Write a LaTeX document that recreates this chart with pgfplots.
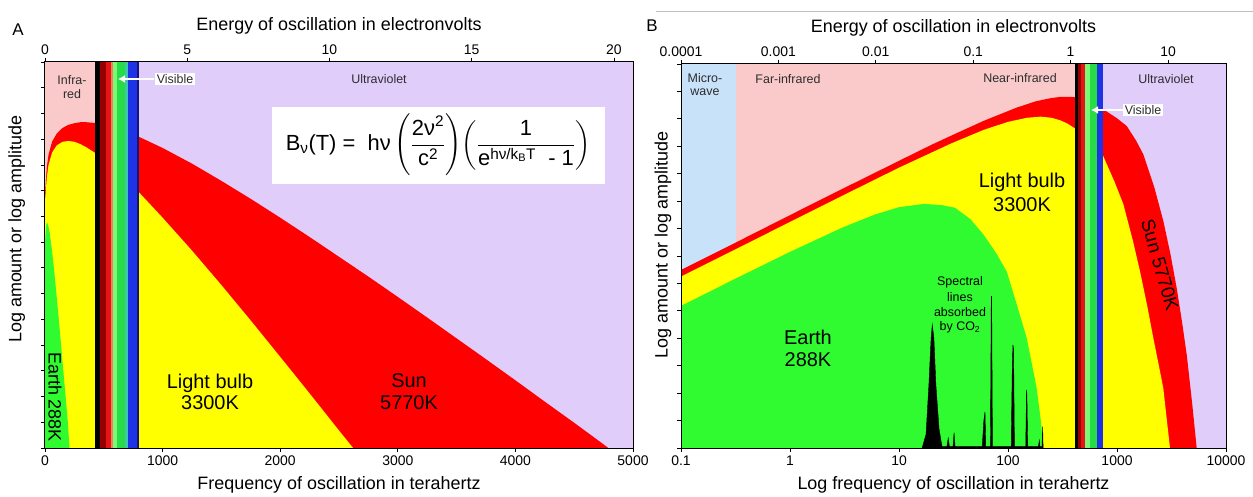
\RequirePackage{fix-cm}
\documentclass[border=0pt]{standalone}
\usepackage{fontspec}
\setmainfont{Liberation Sans}
\usepackage{amsmath}
\usepackage{pgfplots}
\pgfplotsset{compat=1.18}
\usetikzlibrary{arrows.meta}

\definecolor{irpink}{RGB}{250,201,201}
\definecolor{uvlav}{RGB}{225,205,250}
\definecolor{mwblue}{RGB}{200,226,250}
\definecolor{sunred}{RGB}{255,0,0}
\definecolor{bulbyel}{RGB}{255,255,0}
\definecolor{earthgrn}{RGB}{48,250,48}
\definecolor{vdred}{RGB}{150,0,0}
\definecolor{vred}{RGB}{230,20,20}
\definecolor{vorange}{RGB}{240,130,90}
\definecolor{vlgreen}{RGB}{120,250,120}
\definecolor{vgreen}{RGB}{40,220,70}
\definecolor{vteal}{RGB}{60,200,170}
\definecolor{vblue}{RGB}{30,50,230}
\definecolor{vnavy}{RGB}{20,20,120}
\definecolor{labgray}{RGB}{45,45,45}

\newcommand{\fs}[1]{\fontsize{#1}{#1}\selectfont}

\pgfplotsset{
  panel/.style={
    scale only axis, axis on top, anchor=south west,
    ymin=0, tick align=outside, xtick pos=bottom, ytick pos=left,
    yticklabels={},
    major tick length=4bp,
    every tick/.style={black, line width=0.8bp},
    axis line style={black, line width=1bp},
    tick label style={font=\fs{14}},
    label style={font=\fs{18}},
    xlabel style={yshift=-4bp},
    xminorticks=false, yminorticks=false,
  },
  toppanel/.style={
    scale only axis, anchor=south west, ymin=0, ymax=1,
    axis x line*=top, axis y line=none,
    tick align=outside, major tick length=4bp,
    every tick/.style={black, line width=0.8bp},
    axis line style={black, line width=1bp},
    tick label style={font=\fs{14}},
    label style={font=\fs{18}},
    xlabel style={yshift=4bp},
    xminorticks=false,
  },
}

\begin{document}
\begin{tikzpicture}
\path[use as bounding box] (0bp,0bp) rectangle (1253bp,497bp);

% ================= Panel A =================
\begin{axis}[panel, at={(45bp,49bp)}, width=588bp, height=386bp,
  xmin=0, xmax=5000, ymax=15, ytick={0,...,15},
  xtick={0,1000,2000,3000,4000,5000},
  xticklabels={0,1000,2000,3000,4000,5000},
  xlabel={Frequency of oscillation in terahertz},
  ylabel={Log amount or log amplitude},
  ylabel style={at={(axis description cs:-0.048,0.567)}, anchor=center},
]
% spectral regions
\addplot[fill=irpink, draw=none] coordinates {(0,15) (425,15)} \closedcycle;
\addplot[fill=uvlav, draw=none] coordinates {(797,15) (5000,15)} \closedcycle;
% Sun 5770 K
\addplot[fill=sunred, draw=none] coordinates {
(0,9.9) (5,10.2) (15,10.9) (30,11.4) (60,11.9) (100,12.22) (150,12.44) (200,12.56)
(250,12.62) (300,12.66) (350,12.66) (425,12.63) (500,12.57) (600,12.44) (800,12.09)
(1000,11.66) (1250,11.05) (1500,10.38) (1750,9.68) (2000,8.95) (2250,8.20) (2500,7.43)
(2750,6.66) (3000,5.87) (3250,5.07) (3500,4.26) (3750,3.45) (4000,2.63) (4250,1.80)
(4500,0.98) (4750,0.14) (4790,0)} \closedcycle;
% Light bulb 3300 K
\addplot[fill=bulbyel, draw=none] coordinates {
(0,9.6) (5,9.9) (15,10.5) (30,11.0) (60,11.48) (100,11.76) (150,11.90) (200,11.93)
(250,11.90) (300,11.81) (350,11.69) (425,11.47) (500,11.21) (600,10.81) (800,9.93)
(1000,8.95) (1250,7.67) (1500,6.33) (1750,4.95) (2000,3.54) (2250,2.12) (2500,0.68)
(2620,0)} \closedcycle;
% Earth 288 K
\addplot[fill=earthgrn, draw=none] coordinates {
(0,7.6) (2,8.1) (5,8.35) (10,8.64) (17,8.76) (25,8.7) (40,8.35) (60,7.65) (80,6.8)
(100,5.85) (125,4.6) (150,3.3) (175,2.0) (195,0.95) (208,0)} \closedcycle;
% visible band
\addplot[fill=black, draw=none] coordinates {(425,15) (468,15)} \closedcycle;
\addplot[fill=vdred, draw=none] coordinates {(468,15) (515,15)} \closedcycle;
\addplot[fill=vred, draw=none] coordinates {(515,15) (561,15)} \closedcycle;
\addplot[fill=vorange, draw=none] coordinates {(561,15) (576,15)} \closedcycle;
\addplot[fill=vlgreen, draw=none] coordinates {(576,15) (615,15)} \closedcycle;
\addplot[fill=vgreen, draw=none] coordinates {(615,15) (680,15)} \closedcycle;
\addplot[fill=vteal, draw=none] coordinates {(680,15) (709,15)} \closedcycle;
\addplot[fill=vblue, draw=none] coordinates {(709,15) (780,15)} \closedcycle;
\addplot[fill=vnavy, draw=none] coordinates {(780,15) (797,15)} \closedcycle;
\end{axis}

\begin{axis}[toppanel, at={(45bp,49bp)}, width=588bp, height=386bp,
  xmin=0, xmax=20.67, xtick={0,5,10,15,20}, xticklabels={0,5,10,15,20},
  xlabel={Energy of oscillation in electronvolts}]
\end{axis}

% ================= Panel B =================
\begin{axis}[panel, at={(681bp,49bp)}, width=545bp, height=384bp,
  xmode=log, xmin=0.1, xmax=10000, ymax=14, ytick={0,...,14},
  xtick={0.1,1,10,100,1000,10000},
  xticklabels={0.1,1,10,100,1000,10000},
  xlabel={Log frequency of oscillation in terahertz},
  ylabel={Log amount or log amplitude},
  ylabel style={at={(axis description cs:-0.033,0.529)}, anchor=center},
]
\addplot[fill=mwblue, draw=none] coordinates {(0.1,14) (0.32,14)} \closedcycle;
\addplot[fill=irpink, draw=none] coordinates {(0.32,14) (412,14)} \closedcycle;
\addplot[fill=uvlav, draw=none] coordinates {(749,14) (10000,14)} \closedcycle;
% Sun 5770 K
\addplot[fill=sunred, draw=none] coordinates {
(0.1,6.49) (0.3,7.44) (1,8.49) (3,9.44) (10,10.47) (20,11.06) (32.6,11.45) (60,11.93)
(120,12.41) (180,12.64) (243,12.75) (300,12.80) (370,12.80) (412,12.79) (550,12.65)
(748,12.35) (1000,12.02) (1227,11.74) (1500,11.2) (1742,10.71) (2200,9.5) (2660,8.28)
(3100,7.05) (3530,5.83) (3950,4.6) (4363,3.40) (4900,1.6) (5383,0)} \closedcycle;
% Light bulb 3300 K
\addplot[fill=bulbyel, draw=none] coordinates {
(0.1,6.25) (0.3,7.20) (1,8.24) (3,9.19) (10,10.22) (30,11.10) (60,11.60) (100,11.89)
(150,12.04) (200,12.08) (250,12.04) (300,11.95) (350,11.83) (412,11.65) (550,11.2)
(748,10.64) (950,9.7) (1143,8.89) (1400,7.55) (1626,6.44) (1900,5.15) (2153,4.01)
(2400,3.08) (2660,2.18) (2870,1.0) (3062,0)} \closedcycle;
% Earth 288 K
\addplot[fill=earthgrn, draw=none] coordinates {
(0.1,5.18) (0.3,6.13) (1,7.15) (3,8.03) (6,8.51) (10,8.78) (17,8.90) (25,8.85)
(32.6,8.76) (45,8.35) (59.3,7.79) (78,7.1) (97.2,6.44) (120,5.25) (148.4,4.01)
(165,3.1) (183.2,2.18) (200,1.0) (211,0)} \closedcycle;
% CO2 absorption lines
\addplot[fill=black, draw=black, line width=0.4bp] coordinates {
(16.3,0) (17.7,0.5) (18.8,2.3) (19.7,4.0) (20.2,4.5) (20.9,4.0) (21.8,2.3) (23.3,0.7)
(24.8,0.05) (27.5,0.05) (28.3,0.36) (29,0.05) (31.3,0.05) (32,0.56) (32.7,0.05)
(58,0.05) (60,1.0) (61.5,1.32) (62.5,0.05) (69,0.05) (70.2,5.53) (70.8,5.53) (72,0.05)
(107,0.05) (109.5,3.0) (111,3.76) (112.5,3.6) (114.5,0.05) (145.5,0.05) (147.8,2.12)
(149,2.0) (151.5,0.05) (190,0.05) (193.8,0.28) (196,0.05) (205,0.05) (208,0.78)
(210,0)} \closedcycle;
% visible band
\addplot[fill=black, draw=none] coordinates {(412,14) (442,14)} \closedcycle;
\addplot[fill=vdred, draw=none] coordinates {(442,14) (470,14)} \closedcycle;
\addplot[fill=vred, draw=none] coordinates {(470,14) (508,14)} \closedcycle;
\addplot[fill=vlgreen, draw=none] coordinates {(508,14) (560,14)} \closedcycle;
\addplot[fill=vgreen, draw=none] coordinates {(560,14) (651,14)} \closedcycle;
\addplot[fill=vblue, draw=none] coordinates {(651,14) (749,14)} \closedcycle;
\end{axis}

\begin{axis}[toppanel, at={(681bp,49bp)}, width=545bp, height=384bp,
  xmode=log, xmin=1e-4, xmax=39.4,
  xtick={0.0001,0.001,0.01,0.1,1,10},
  xticklabels={0.0001,0.001,0.01,0.1,1,10},
  xlabel={Energy of oscillation in electronvolts}]
\end{axis}

% ================= annotations =================
\node[font=\fs{17}] at (18bp,467bp) {A};
\node[font=\fs{17}] at (652bp,471bp) {B};
\draw[black!25, line width=1bp] (656bp,485bp) -- (1253bp,485bp);

% Panel A labels
\node[font=\fs{12.5}, text=labgray] at (72bp,417bp) {Infra-};
\node[font=\fs{12.5}, text=labgray] at (72bp,403bp) {red};
\draw[white, line width=2.2bp, -{Latex[length=7bp,width=8bp]}] (154bp,418bp) -- (118bp,418bp);
\node[fill=white, inner sep=1.5bp, font=\fs{12.5}, text=labgray] at (175bp,418bp) {Visible};
\node[font=\fs{12.5}, text=labgray] at (379bp,418bp) {Ultraviolet};
\fill[white] (272bp,390bp) rectangle (605bp,313bp);
\node[font=\fs{22}] at (438bp,352bp)
  {$\text{B}_{\text{ν}}\text{(T) = \ hν}\left(\dfrac{\text{2ν}^{\text{2}}}{\text{c}^{\text{2}}}\right)\!\left(\dfrac{\text{1}}{\text{e}^{\text{hν/k}_{\text{B}}\text{T}}\text{ \ - 1}}\right)$};
\node[font=\fs{18}, rotate=-90] at (55bp,100bp) {Earth 288K};
\node[font=\fs{20}] at (210bp,114bp) {Light bulb};
\node[font=\fs{20}] at (210bp,94bp) {3300K};
\node[font=\fs{20}] at (409bp,116bp) {Sun};
\node[font=\fs{20}] at (409bp,94bp) {5770K};

% Panel B labels
\node[font=\fs{12.5}, text=labgray] at (705bp,419bp) {Micro-};
\node[font=\fs{12.5}, text=labgray] at (705bp,405bp) {wave};
\node[font=\fs{12.5}, text=labgray] at (788bp,418bp) {Far-infrared};
\node[font=\fs{12.5}, text=labgray] at (1020bp,419bp) {Near-infrared};
\node[font=\fs{12.5}, text=labgray] at (1166bp,418bp) {Ultraviolet};
\draw[white, line width=2.2bp, -{Latex[length=7bp,width=8bp]}] (1124bp,387bp) -- (1091bp,387bp);
\node[fill=white, inner sep=1.5bp, font=\fs{12.5}, text=labgray] at (1143bp,387bp) {Visible};
\node[font=\fs{20}] at (1022bp,315bp) {Light bulb};
\node[font=\fs{20}] at (1022bp,292bp) {3300K};
\node[font=\fs{19}, rotate=-74] at (1160bp,232bp) {Sun 5770K};
\node[font=\fs{20}] at (808bp,160bp) {Earth};
\node[font=\fs{20}] at (808bp,137bp) {288K};
\node[font=\fs{12.5}] at (960bp,215bp) {Spectral};
\node[font=\fs{12.5}] at (960bp,200bp) {lines};
\node[font=\fs{12.5}] at (960bp,185bp) {absorbed};
\node[font=\fs{12.5}] at (960bp,170bp) {by CO\textsubscript{2}};
\end{tikzpicture}
\end{document}
